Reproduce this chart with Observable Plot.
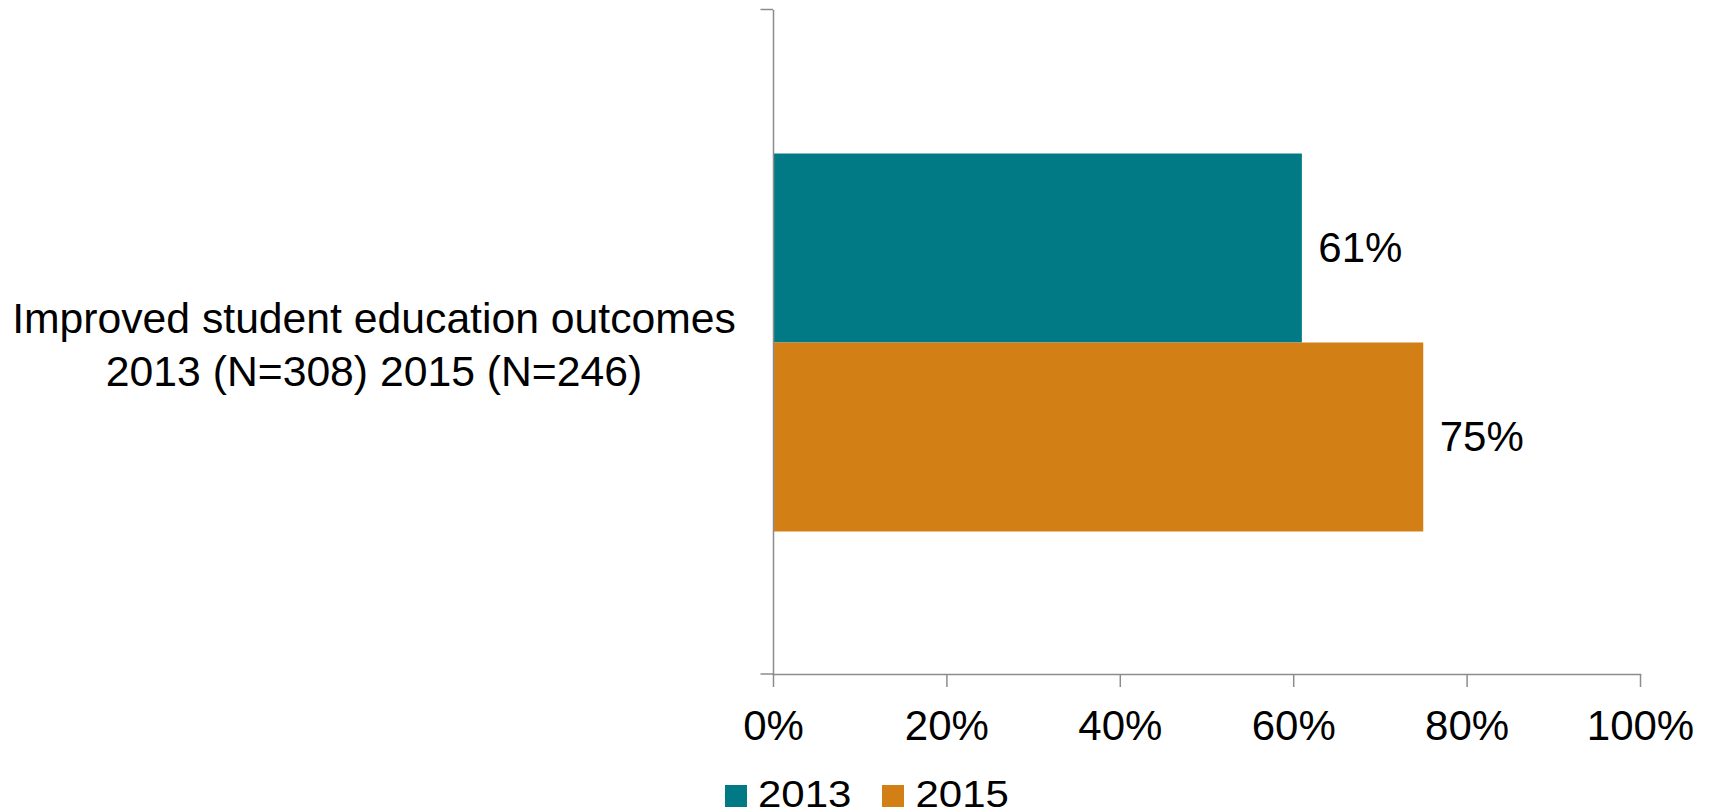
<!DOCTYPE html>
<html>
<head>
<meta charset="utf-8">
<script src="https://cdn.jsdelivr.net/npm/d3@7"></script>
<script src="https://cdn.jsdelivr.net/npm/@observablehq/plot@0.6"></script>
<style>
  html, body { margin: 0; padding: 0; background: #fff; }
  body { width: 1712px; height: 811px; position: relative; overflow: hidden;
         font-family: "Liberation Sans", Arial, sans-serif; }
  #legend { position: absolute; left: 725px; top: 772px; display: flex; align-items: flex-start;
            font-size: 42px; line-height: 42px; color: #000; }
  #legend .item { display: flex; align-items: flex-start; margin-right: 31px; }
  #legend .swatch { width: 22px; height: 22px; margin-right: 11px; margin-top: 13px; }
  #legend span { display: inline-block; transform: scaleY(0.9); transform-origin: 50% 85%; }
</style>
</head>
<body>
<div id="chart"></div>
<div id="legend"></div>
<script>
// Survey item and the two survey waves
const categories = ["Improved student education outcomes\n2013 (N=308) 2015 (N=246)"];
const years = ["2013", "2015"];
const shares = [0.61, 0.75];
const xTicks = [0, 0.2, 0.4, 0.6, 0.8, 1];
const yearColors = ["#017A86", "#D27F16"];

const rows = years.map((year, i) => ({ category: categories[0], year, share: shares[i] }));
const pct = (v) => `${Math.round(v * 100)}%`;
const axisGray = "#8c8c8c";
const font = "'Liberation Sans', Arial, sans-serif";

const chart = Plot.plot({
  width: 1712,
  height: 770,
  marginTop: 9.5,
  marginBottom: 96,
  marginLeft: 773,
  marginRight: 72,
  style: { fontFamily: font, fontSize: "42px", color: "#000", background: "#fff", overflow: "visible" },
  x: { domain: [0, 1] },
  y: { domain: years, paddingInner: 0, paddingOuter: 0.75, axis: null },
  fy: { domain: categories, padding: 0 },
  color: { domain: years, range: yearColors },
  marks: [
    Plot.barX(rows, { fy: "category", y: "year", x: "share", fill: "year" }),
    Plot.text(rows, {
      fy: "category", y: "year", x: "share", text: (d) => pct(d.share),
      textAnchor: "start", dx: 16, fontSize: 42, fill: "#000"
    }),
    Plot.frame({ anchor: "left", stroke: axisGray, strokeWidth: 1.5 }),
    Plot.frame({ anchor: "bottom", stroke: axisGray, strokeWidth: 1.5 }),
    Plot.axisX({
      ticks: xTicks, tickFormat: pct, tickSize: 13, tickPadding: 23,
      stroke: axisGray, strokeWidth: 1.5, fill: "#000", fontSize: 42, label: null
    }),
    Plot.axisFy({
      anchor: "left", tickSize: 0, tickPadding: 399.5, textAnchor: "middle",
      lineHeight: 1.24, fontSize: 42.7, fill: "#000", label: null
    })
  ]
});

// Category-boundary ticks on the vertical axis (top and bottom of the band)
const xs = chart.scale("x").range;
const fyRange = chart.scale("fy").range;
const svg = d3.select(chart.tagName === "svg" ? chart : chart.querySelector("svg"));
svg.append("g")
  .attr("stroke", axisGray)
  .attr("stroke-width", 1.5)
  .selectAll("line")
  .data(fyRange)
  .join("line")
  .attr("x1", xs[0] - 12.5)
  .attr("x2", xs[0])
  .attr("y1", (d) => d)
  .attr("y2", (d) => d);

document.getElementById("chart").append(chart);

// Legend for the two survey waves
const legend = d3.select("#legend");
const items = legend.selectAll(".item").data(years).join("div").attr("class", "item");
items.append("div").attr("class", "swatch").style("background", (d, i) => yearColors[i]);
items.append("span").text((d) => d);
</script>
</body>
</html>
